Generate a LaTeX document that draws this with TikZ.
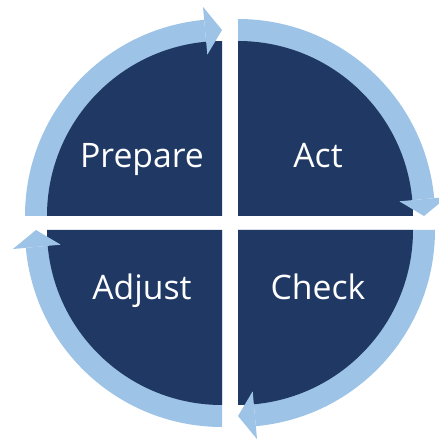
\documentclass[tikz,border=0pt]{standalone}
\usepackage{fontspec}
\setsansfont{Open Sans}
\usepackage{tkz-base}
\usepackage{tkz-euclide}
\definecolor{azulosc}{RGB}{31,56,100}
\definecolor{azulcla}{RGB}{157,195,230}
\tikzset{etapa/.style={text=white,anchor=base,font=\sffamily\fontsize{24}{27}\selectfont}}

\begin{document}
\begin{tikzpicture}
        \useasboundingbox (0,0) rectangle (10.975,11.025);

        % Paso 1: Define las esquinas de los cuatro cuadrantes
        \tkzDefPoint(5.55,5.625){O1} % Prepare
        \tkzDefPoint(5.95,5.625){O2} % Act
        \tkzDefPoint(5.95,5.275){O3} % Check
        \tkzDefPoint(5.55,5.275){O4} % Adjust

        % Paso 2: Cuadrante Prepare (de 180 a 90 grados)
        \tkzDefShiftPoint[O1](180:4.925){A1}
        \tkzDefShiftPoint[O1](95.2:4.925){B1}
        \tkzDefShiftPoint[O1](180:4.375){C1}
        \tkzDefShiftPoint[O1](90:4.375){D1}
        \tkzDefShiftPoint[O1](90:4.65){T1}
        \tkzDefShiftPoint[O1](95.2:4.05){P1}
        \tkzDefShiftPoint[O1](95.2:5.25){Q1}
        \tkzFillSector[azulcla](O1,B1)(A1)
        \tkzFillSector[azulosc](O1,D1)(C1)
        \tkzFillPolygon[azulcla](P1,T1,Q1)

        % Paso 3: Cuadrante Act (de 90 a 0 grados)
        \tkzDefShiftPoint[O2](90:4.925){A2}
        \tkzDefShiftPoint[O2](5.2:4.925){B2}
        \tkzDefShiftPoint[O2](90:4.375){C2}
        \tkzDefShiftPoint[O2](0:4.375){D2}
        \tkzDefShiftPoint[O2](0:4.65){T2}
        \tkzDefShiftPoint[O2](5.2:4.05){P2}
        \tkzDefShiftPoint[O2](5.2:5.25){Q2}
        \tkzFillSector[azulcla](O2,B2)(A2)
        \tkzFillSector[azulosc](O2,D2)(C2)
        \tkzFillPolygon[azulcla](P2,T2,Q2)

        % Paso 4: Cuadrante Check (de 0 a -90 grados)
        \tkzDefShiftPoint[O3](0:4.925){A3}
        \tkzDefShiftPoint[O3](-84.8:4.925){B3}
        \tkzDefShiftPoint[O3](0:4.375){C3}
        \tkzDefShiftPoint[O3](-90:4.375){D3}
        \tkzDefShiftPoint[O3](-90:4.65){T3}
        \tkzDefShiftPoint[O3](-84.8:4.05){P3}
        \tkzDefShiftPoint[O3](-84.8:5.25){Q3}
        \tkzFillSector[azulcla](O3,B3)(A3)
        \tkzFillSector[azulosc](O3,D3)(C3)
        \tkzFillPolygon[azulcla](P3,T3,Q3)

        % Paso 5: Cuadrante Adjust (de 270 a 180 grados)
        \tkzDefShiftPoint[O4](270:4.925){A4}
        \tkzDefShiftPoint[O4](185.2:4.925){B4}
        \tkzDefShiftPoint[O4](270:4.375){C4}
        \tkzDefShiftPoint[O4](180:4.375){D4}
        \tkzDefShiftPoint[O4](180:4.65){T4}
        \tkzDefShiftPoint[O4](185.2:4.05){P4}
        \tkzDefShiftPoint[O4](185.2:5.25){Q4}
        \tkzFillSector[azulcla](O4,B4)(A4)
        \tkzFillSector[azulosc](O4,D4)(C4)
        \tkzFillPolygon[azulcla](P4,T4,Q4)

        % Paso 6: Escribe el nombre de cada etapa
        \node[etapa] (prepare) at (3.55,6.825) {Prepare};
        \node[etapa] (act) at (7.95,6.825) {Act};
        \node[etapa] (check) at (7.95,3.525) {Check};
        \node[etapa] (adjust) at (3.55,3.525) {Adjust};
    \end{tikzpicture}
\end{document}
